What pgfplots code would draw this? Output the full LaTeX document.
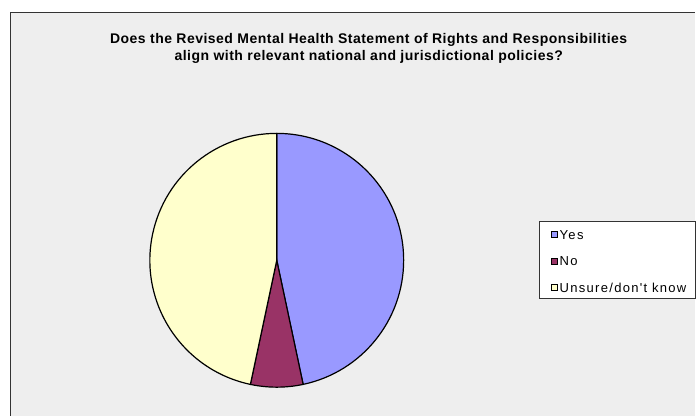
\documentclass[border=0pt]{standalone}
\usepackage{fontspec}
\setmainfont{Liberation Sans}
\newfontfamily\legfont[LetterSpace=10]{Liberation Sans}
\newfontfamily\titfont[LetterSpace=3.5]{Liberation Sans}
\usepackage{pgfplots}
\usepackage{pgfplotstable}
\pgfplotsset{compat=1.18}
\definecolor{bg}{HTML}{EEEEEE}
\definecolor{cyes}{HTML}{9999FF}
\definecolor{cno}{HTML}{993366}
\definecolor{cuns}{HTML}{FFFFCC}
\definecolor{frame}{HTML}{333333}
\pgfplotstableread{
label value
Yes 7
No 1
Unsure 7
}\piedata
\pgfplotstablegetelem{0}{value}\of\piedata \let\vA\pgfplotsretval
\pgfplotstablegetelem{1}{value}\of\piedata \let\vB\pgfplotsretval
\pgfplotstablegetelem{2}{value}\of\piedata \let\vC\pgfplotsretval
\pgfmathsetmacro{\vT}{\vA+\vB+\vC}
\pgfmathsetmacro{\aO}{90}
\pgfmathsetmacro{\aI}{\aO-360*\vA/\vT}
\pgfmathsetmacro{\aII}{\aI-360*\vB/\vT}
\pgfmathsetmacro{\aIII}{\aII-360*\vC/\vT}
\begin{document}
\begin{tikzpicture}
\begin{axis}[
  scale only axis, width=696bp, height=416bp,
  xmin=0, xmax=696, ymin=0, ymax=416,
  hide axis, clip=false,
]
\fill[white] (axis cs:0,0) rectangle (axis cs:696,416);
\fill[bg] (axis cs:10,0) rectangle (axis cs:696,403.5);
\draw[frame, line width=1.2bp] (axis cs:10.3,0) -- (axis cs:10.3,403.7) -- (axis cs:696,403.7);
% title
\node[anchor=base, font=\titfont\fontsize{14bp}{15bp}\selectfont\bfseries, inner sep=0pt] at (axis cs:369,372) {Does the Revised Mental Health Statement of Rights and Responsibilities};
\node[anchor=base, font=\titfont\fontsize{14bp}{15bp}\selectfont\bfseries, inner sep=0pt] at (axis cs:369,355.5) {align with relevant national and jurisdictional policies?};
% pie
\coordinate (C) at (axis cs:277,155.5);
\filldraw[fill=cyes, draw=black, line width=1.2bp] (C) -- ([shift={(\aO:127bp)}]C) arc[start angle=\aO, end angle=\aI, radius=127bp] -- cycle;
\filldraw[fill=cno, draw=black, line width=1.2bp] (C) -- ([shift={(\aI:127bp)}]C) arc[start angle=\aI, end angle=\aII, radius=127bp] -- cycle;
\filldraw[fill=cuns, draw=black, line width=1.2bp] (C) -- ([shift={(\aII:127bp)}]C) arc[start angle=\aII, end angle=\aIII, radius=127bp] -- cycle;
% legend
\filldraw[fill=white, draw=black!80, line width=0.8bp] (axis cs:540,194) rectangle (axis cs:695.5,117);
\filldraw[fill=cyes, draw=black, line width=0.8bp] (axis cs:552,178) rectangle (axis cs:558,184);
\filldraw[fill=cno, draw=black, line width=0.8bp] (axis cs:552,151.5) rectangle (axis cs:558,157.5);
\filldraw[fill=cuns, draw=black, line width=0.8bp] (axis cs:552,125) rectangle (axis cs:558,131);
\node[anchor=west, font=\legfont\fontsize{13bp}{15bp}\selectfont, inner sep=0pt] at (axis cs:560,181) {Yes};
\node[anchor=west, font=\legfont\fontsize{13bp}{15bp}\selectfont, inner sep=0pt] at (axis cs:560,154.5) {No};
\node[anchor=west, font=\legfont\fontsize{13bp}{15bp}\selectfont, inner sep=0pt] at (axis cs:560,128) {Unsure/don't know};
\end{axis}
\end{tikzpicture}
\end{document}
